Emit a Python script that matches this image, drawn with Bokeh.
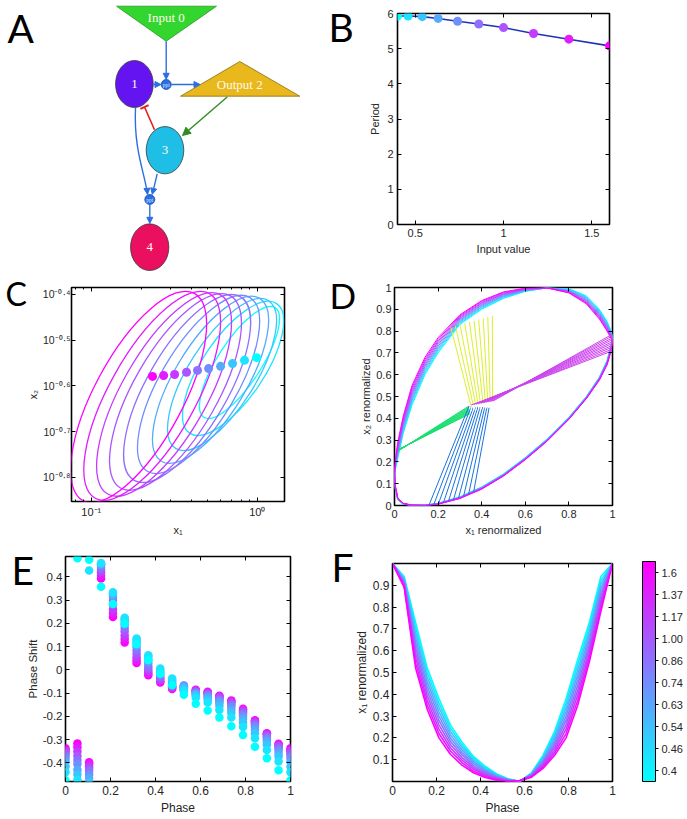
import math
from bokeh.plotting import figure
from bokeh.layouts import row, column
from bokeh.models import (Range1d, FixedTicker, LinearAxis, Label, Arrow, NormalHead,
                          TeeHead, ColorBar, LinearColorMapper, ColumnDataSource)
from bokeh.embed import file_html
from bokeh.resources import INLINE
from bokeh.core.properties import value

SANS = "Liberation Sans"
SERIF = "Liberation Serif"
LETTER_FONT = "Lato"
TXT = "#262626"

# ---------------- shared ----------------
input_values = [0.4, 0.46, 0.54, 0.63, 0.74, 0.86, 1.00, 1.17, 1.37, 1.6]
input_labels = ["0.4", "0.46", "0.54", "0.63", "0.74", "0.86", "1.00", "1.17", "1.37", "1.6"]
cool_colors = ["#00ffff", "#1ce3ff", "#39c6ff", "#55aaff", "#718eff",
               "#8e71ff", "#aa55ff", "#c639ff", "#e31cff", "#ff00ff"]

# ---------------- panel A (network diagram, page-pixel coordinates) ----------------
A_node_labels = ["1", "3", "4"]
A_node_x = [133.9, 164.5, 149.2]
A_node_y = [83.5, 149.7, 246.7]
A_node_w = [37.7, 37.6, 38.3]
A_node_h = [47.0, 47.3, 46.7]
A_node_colors = ["#6414f0", "#1ebee6", "#eb0f5f"]
A_input_x = [116.0, 216.0, 165.7]
A_input_y = [5.7, 5.7, 40.7]
A_output_x = [180.0, 299.3, 239.3]
A_output_y = [95.7, 95.7, 61.0]
A_ppi_x = [165.7, 149.3]
A_ppi_y = [84.0, 199.0]
A_blue_x0 = [165.7, 153.0, 170.7, 156.7, 149.3]
A_blue_y0 = [40.7, 84.0, 84.0, 173.3, 204.0]
A_blue_x1 = [165.7, 160.5, 199.5, 151.8, 149.3]
A_blue_y1 = [78.8, 84.0, 84.0, 193.8, 222.8]
A_green_edge = [226.7, 96.5, 182.0, 135.0]
A_red_edge = [154.0, 129.3, 144.0, 106.5]
A_curve_edge = [135.0, 107.3, 147.0, 193.8, 133.0, 150.0, 145.0, 175.0]

# ---------------- panel B ----------------
period = [5.93, 5.93, 5.91, 5.86, 5.78, 5.70, 5.60, 5.43, 5.27, 5.08]
B_x_ticks = [0.5, 1.0, 1.5]
B_x_tick_labels = ["0.5", "1", "1.5"]
B_y_ticks = [0, 1, 2, 3, 4, 5, 6]
B_y_tick_labels = ["0", "1", "2", "3", "4", "5", "6"]

# ---------------- panel C (log10 x1 / log10 x2 limit cycles) ----------------
C_orbit_left = [-0.348, -0.45, -0.54, -0.631, -0.721, -0.805, -0.89, -0.968, -1.045, -1.124]
C_orbit_right = [0.134, 0.159, 0.116, 0.068, 0.014, -0.040, -0.095, -0.155, -0.221, -0.305]
C_orbit_top = [-0.426, -0.415, -0.409, -0.404, -0.402, -0.400, -0.398, -0.396, -0.393, -0.393]
C_orbit_bottom = [-0.671, -0.708, -0.741, -0.769, -0.791, -0.811, -0.828, -0.841, -0.850, -0.855]
C_orbit_x_at_top = [0.08, 0.068, 0.02, -0.034, -0.095, -0.155, -0.215, -0.275, -0.342, -0.432]
C_fixed_log_x1 = [-0.004, -0.077, -0.149, -0.221, -0.293, -0.360, -0.426, -0.498, -0.564, -0.631]
C_fixed_log_x2 = [-0.538, -0.544, -0.551, -0.557, -0.562, -0.566, -0.570, -0.575, -0.577, -0.579]
C_x_ticks = [-1, 0]
C_x_tick_labels = ["10⁻¹", "10⁰"]
C_x_minor = [math.log10(v) for v in (0.08, 0.09, 0.2, 0.3, 0.4, 0.5, 0.6, 0.7, 0.8, 0.9)]
C_y_ticks = [-0.8, -0.7, -0.6, -0.5, -0.4]
C_y_tick_labels = ["10⁻⁰·⁸", "10⁻⁰·⁷", "10⁻⁰·⁶", "10⁻⁰·⁵", "10⁻⁰·⁴"]

# ---------------- panel D (renormalized orbits) ----------------
D_x = [0, 0.004, 0.015, 0.04, 0.08, 0.14, 0.2, 0.3, 0.4, 0.5, 0.6, 0.7, 0.8, 0.88, 0.94, 0.975, 0.994, 1]
D_upper = [
    [.12, .165, .215, .33, .46, .60, .70, .83, .90, .95, .982, .998, .995, .962, .90, .845, .80, .78],
    [.123, .170, .223, .339, .47, .609, .708, .835, .904, .953, .984, .998, .993, .958, .895, .84, .796, .776],
    [.127, .175, .232, .348, .48, .618, .716, .84, .909, .957, .985, .998, .991, .954, .89, .835, .792, .772],
    [.13, .18, .24, .357, .49, .627, .723, .845, .913, .96, .987, .998, .988, .95, .885, .83, .788, .768],
    [.133, .185, .248, .366, .50, .636, .731, .85, .918, .963, .989, .998, .986, .946, .88, .825, .784, .764],
    [.137, .19, .257, .374, .51, .644, .739, .855, .922, .967, .99, .998, .984, .941, .875, .82, .781, .761],
    [.14, .195, .265, .383, .52, .653, .747, .86, .927, .97, .992, .998, .982, .937, .87, .815, .777, .757],
    [.143, .20, .273, .392, .53, .662, .754, .865, .931, .973, .994, .998, .979, .933, .865, .81, .773, .753],
    [.147, .205, .282, .401, .54, .671, .762, .87, .936, .977, .995, .998, .977, .929, .86, .805, .769, .749],
    [.15, .21, .29, .41, .55, .68, .77, .875, .94, .98, .997, .998, .975, .925, .855, .80, .765, .745],
]
D_lower = [
    [.12, .07, .025, .006, 0, .002, .01, .04, .085, .145, .22, .305, .405, .50, .59, .665, .74, .78],
    [.123, .072, .026, .006, 0, .002, .01, .039, .084, .144, .219, .304, .404, .499, .588, .663, .737, .776],
    [.127, .074, .027, .007, 0, .002, .009, .038, .083, .143, .218, .303, .403, .498, .587, .661, .733, .772],
    [.13, .077, .028, .007, .001, .001, .009, .037, .082, .142, .217, .302, .402, .497, .585, .658, .73, .768],
    [.133, .079, .029, .008, .001, .001, .008, .036, .081, .141, .216, .301, .401, .496, .583, .656, .727, .764],
    [.137, .081, .031, .008, .001, .001, .008, .036, .079, .139, .214, .299, .399, .494, .582, .654, .723, .761],
    [.14, .083, .032, .009, .001, .001, .007, .035, .078, .138, .213, .298, .398, .493, .58, .652, .72, .757],
    [.143, .086, .033, .009, .002, 0, .007, .034, .077, .137, .212, .297, .397, .492, .578, .649, .717, .753],
    [.147, .088, .034, .01, .002, 0, .006, .033, .076, .136, .211, .296, .396, .491, .577, .647, .713, .749],
    [.15, .09, .035, .01, .002, 0, .006, .032, .075, .135, .21, .295, .395, .49, .575, .645, .71, .745],
]
D_fixed_x = [0.45, 0.439, 0.428, 0.417, 0.406, 0.394, 0.383, 0.372, 0.361, 0.35]
D_fixed_y = [0.478, 0.476, 0.474, 0.472, 0.470, 0.468, 0.466, 0.464, 0.462, 0.46]
D_yellow_x = [0.449, 0.428, 0.407, 0.386, 0.365, 0.344, 0.322, 0.30, 0.279, 0.258]
D_yellow_y = [0.87, 0.865, 0.859, 0.853, 0.847, 0.842, 0.836, 0.830, 0.825, 0.819]
D_green_x0 = [0.024, 0.023, 0.023, 0.022, 0.021, 0.021, 0.02, 0.019, 0.019, 0.018]
D_green_y0 = [0.26, 0.259, 0.258, 0.257, 0.256, 0.255, 0.254, 0.253, 0.252, 0.251]
D_green_x1 = [0.345, 0.345, 0.344, 0.344, 0.343, 0.343, 0.342, 0.342, 0.341, 0.341]
D_green_y1 = [0.42, 0.424, 0.428, 0.432, 0.436, 0.44, 0.444, 0.448, 0.452, 0.456]
D_blue_x0 = [0.434, 0.424, 0.414, 0.404, 0.393, 0.383, 0.373, 0.363, 0.352, 0.342]
D_blue_y0 = [0.449, 0.45, 0.45, 0.451, 0.452, 0.453, 0.453, 0.454, 0.455, 0.456]
D_blue_x1 = [0.363, 0.34, 0.317, 0.294, 0.271, 0.248, 0.225, 0.202, 0.18, 0.158]
D_blue_y1 = [0.062, 0.052, 0.043, 0.035, 0.028, 0.021, 0.015, 0.009, 0.004, 0.001]
D_magenta_x1 = [0.998, 0.998, 0.998, 0.998, 0.998, 0.998, 0.998, 0.998, 0.998, 0.998]
D_magenta_y1 = [0.785, 0.777, 0.768, 0.76, 0.751, 0.743, 0.734, 0.726, 0.717, 0.709]
D_white_x1 = [0.454, 0.443, 0.432, 0.421, 0.41, 0.398, 0.387, 0.376, 0.365, 0.354]
D_white_y1 = [0.452, 0.45, 0.448, 0.446, 0.444, 0.442, 0.44, 0.438, 0.436, 0.434]
D_x_ticks = [0, 0.2, 0.4, 0.6, 0.8, 1]
D_x_tick_labels = ["0", "0.2", "0.4", "0.6", "0.8", "1"]
D_y_ticks = [0, 0.1, 0.2, 0.3, 0.4, 0.5, 0.6, 0.7, 0.8, 0.9, 1]
D_y_tick_labels = ["0", "0.1", "0.2", "0.3", "0.4", "0.5", "0.6", "0.7", "0.8", "0.9", "1"]

# ---------------- panels E and F ----------------
phase = [0, 0.053, 0.105, 0.158, 0.211, 0.263, 0.316, 0.368, 0.421, 0.474,
         0.526, 0.579, 0.632, 0.684, 0.737, 0.789, 0.842, 0.895, 0.947, 1.0]
E_shift = [
    [-0.476, 0.481, 0.474, 0.358, 0.284, 0.199, 0.111, 0.042, -0.016, -0.066, -0.107, -0.145, -0.175, -0.205, -0.242, -0.28, -0.33, -0.38, -0.432, -0.476],
    [-0.44, -0.473, 0.428, 0.46, 0.334, 0.225, 0.135, 0.063, 0.006, -0.037, -0.09, -0.12, -0.14, -0.172, -0.205, -0.245, -0.294, -0.344, -0.394, -0.44],
    [-0.415, -0.45, -0.483, 0.458, 0.33, 0.22, 0.13, 0.058, 0.0, -0.042, -0.08, -0.11, -0.128, -0.155, -0.185, -0.225, -0.272, -0.322, -0.372, -0.415],
    [-0.395, -0.43, -0.465, 0.455, 0.325, 0.21, 0.118, 0.045, -0.01, -0.05, -0.072, -0.105, -0.12, -0.143, -0.172, -0.21, -0.258, -0.309, -0.359, -0.395],
    [-0.38, -0.405, -0.45, 0.45, 0.315, 0.195, 0.10, 0.03, -0.02, -0.058, -0.068, -0.1, -0.113, -0.135, -0.16, -0.198, -0.246, -0.298, -0.347, -0.38],
    [-0.368, -0.387, -0.435, 0.44, 0.30, 0.18, 0.085, 0.016, -0.028, -0.064, -0.067, -0.097, -0.108, -0.128, -0.152, -0.19, -0.237, -0.29, -0.338, -0.368],
    [-0.358, -0.37, -0.425, 0.43, 0.28, 0.165, 0.07, 0.005, -0.036, -0.07, -0.07, -0.094, -0.104, -0.122, -0.145, -0.182, -0.23, -0.284, -0.331, -0.358],
    [-0.35, -0.351, -0.415, 0.42, 0.26, 0.148, 0.055, -0.005, -0.043, -0.074, -0.075, -0.091, -0.1, -0.118, -0.14, -0.176, -0.225, -0.279, -0.326, -0.35],
    [-0.343, -0.333, -0.405, 0.405, 0.245, 0.133, 0.042, -0.014, -0.049, -0.078, -0.081, -0.088, -0.097, -0.114, -0.135, -0.171, -0.22, -0.275, -0.322, -0.343],
    [-0.337, -0.316, -0.397, 0.393, 0.228, 0.118, 0.03, -0.023, -0.054, -0.082, -0.087, -0.085, -0.094, -0.111, -0.131, -0.167, -0.216, -0.272, -0.318, -0.337],
]
F_x1 = [
    [1.0, .94, .73, .52, .38, .26, .18, .115, .07, .035, .012, 0.0, .04, .12, .23, .38, .56, .73, .94, 1.0],
    [1.0, .934, .707, .499, .36, .245, .168, .107, .064, .032, .011, 0.0, .038, .113, .218, .36, .537, .71, .922, 1.0],
    [1.0, .929, .683, .478, .34, .23, .157, .098, .058, .029, .009, .001, .036, .107, .206, .34, .513, .69, .904, 1.0],
    [1.0, .923, .66, .457, .32, .215, .145, .09, .053, .025, .008, .001, .033, .10, .193, .32, .49, .67, .887, 1.0],
    [1.0, .918, .637, .436, .30, .20, .133, .082, .047, .022, .007, .002, .031, .093, .181, .30, .467, .65, .869, 1.0],
    [1.0, .912, .613, .414, .28, .185, .122, .073, .041, .019, .005, .002, .029, .087, .169, .28, .443, .63, .851, 1.0],
    [1.0, .907, .59, .393, .26, .17, .11, .065, .035, .016, .004, .003, .027, .08, .157, .26, .42, .61, .833, 1.0],
    [1.0, .901, .567, .372, .24, .155, .098, .057, .03, .012, .003, .003, .024, .073, .144, .24, .397, .59, .816, 1.0],
    [1.0, .896, .543, .351, .22, .14, .087, .048, .024, .009, .001, .004, .022, .067, .132, .22, .373, .57, .798, 1.0],
    [1.0, .89, .52, .33, .20, .125, .075, .04, .018, .006, 0.0, .004, .02, .06, .12, .20, .35, .55, .78, 1.0],
]
EF_x_ticks = [0, 0.2, 0.4, 0.6, 0.8, 1]
EF_x_tick_labels = ["0", "0.2", "0.4", "0.6", "0.8", "1"]
E_y_ticks = [-0.4, -0.3, -0.2, -0.1, 0, 0.1, 0.2, 0.3, 0.4]
E_y_tick_labels = ["-0.4", "-0.3", "-0.2", "-0.1", "0", "0.1", "0.2", "0.3", "0.4"]
F_y_ticks = [0.1, 0.2, 0.3, 0.4, 0.5, 0.6, 0.7, 0.8, 0.9]
F_y_tick_labels = ["0.1", "0.2", "0.3", "0.4", "0.5", "0.6", "0.7", "0.8", "0.9"]


# ---------------- helpers ----------------
def no_align(p):
    if "frame_align" in p.properties():
        p.frame_align = False


def new_fig(w, h, xr, yr, left, right, top, bottom):
    p = figure(width=w, height=h, x_range=Range1d(*xr), y_range=Range1d(*yr),
               min_border_left=left, min_border_right=right,
               min_border_top=top, min_border_bottom=bottom,
               toolbar_location=None, output_backend="svg")
    no_align(p)
    p.grid.visible = False
    p.outline_line_color = "black"
    p.outline_line_width = 1.6
    p.background_fill_color = "white"
    p.border_fill_color = "white"
    return p


def style_axis(ax, fs, minor=False):
    ax.major_tick_in = 4
    ax.major_tick_out = 0
    ax.major_tick_line_color = "black"
    if minor:
        ax.minor_tick_in = 2
        ax.minor_tick_out = 0
        ax.minor_tick_line_color = "black"
    else:
        ax.minor_tick_line_color = None
    ax.axis_line_color = None
    ax.major_label_text_font = SANS
    ax.major_label_text_font_size = fs
    ax.major_label_text_color = TXT
    ax.axis_label_text_font = SANS
    ax.axis_label_text_font_size = fs
    ax.axis_label_text_font_style = "normal"
    ax.axis_label_text_color = TXT
    ax.major_label_standoff = 4
    ax.axis_label_standoff = 3


def setup_axes(p, xt, xl, yt, yl, fs, xlabel, ylabel, xminor=None):
    p.xaxis.ticker = FixedTicker(ticks=xt, minor_ticks=xminor or [])
    p.yaxis.ticker = FixedTicker(ticks=yt)
    p.xaxis.major_label_overrides = dict(zip(xt, xl))
    p.yaxis.major_label_overrides = dict(zip(yt, yl))
    p.xaxis.axis_label = xlabel
    p.yaxis.axis_label = ylabel
    style_axis(p.xaxis[0], fs, minor=bool(xminor))
    style_axis(p.yaxis[0], fs)
    for side, ticks, mnr in (("above", xt, xminor), ("right", yt, None)):
        ax = LinearAxis(ticker=FixedTicker(ticks=ticks, minor_ticks=mnr or []),
                        major_label_overrides={t: "" for t in ticks},
                        major_label_text_font_size="0px", major_label_text_color=None,
                        major_label_standoff=0, axis_line_color=None,
                        major_tick_in=4, major_tick_out=0, major_tick_line_color="black",
                        minor_tick_in=2 if mnr else 0, minor_tick_out=0,
                        minor_tick_line_color="black" if mnr else None)
        p.add_layout(ax, side)


def letter(p, text, sx, sy, size="39px"):
    # panel letter placed in the figure's left side panel (not clipped by the frame)
    lab = Label(x=sx, y=sy, x_units="screen", y_units="screen", text=text,
                text_font=LETTER_FONT, text_font_size=size, text_color="black",
                text_baseline="alphabetic", text_align="left")
    p.add_layout(lab, "left")


TOP_H = 271      # height of the first row (A, B)
MID_H = 269      # second row (C, D)
BOT_H = 277      # third row (E, F)

# ---------------- A ----------------
pA = figure(width=328, height=TOP_H, x_range=Range1d(0, 328), y_range=Range1d(TOP_H, 0),
            x_axis_type=None, y_axis_type=None, min_border=0,
            toolbar_location=None, output_backend="svg")
no_align(pA)
pA.grid.visible = False
pA.outline_line_color = None
pA.patch(A_input_x, A_input_y, fill_color="#33d62e", line_color="#2a9a22", line_width=0.8)
pA.patch(A_output_x, A_output_y, fill_color="#e8b81c", line_color="#8a6a10", line_width=0.8)
blue = "#2a6fe0"
pA.add_layout(Arrow(end=NormalHead(size=6, fill_color=blue, line_color=blue),
                    source=ColumnDataSource(dict(x0=A_blue_x0, y0=A_blue_y0, x1=A_blue_x1, y1=A_blue_y1)),
                    x_start="x0", y_start="y0", x_end="x1", y_end="y1",
                    line_color=blue, line_width=1.4))
cx0, cy0, cx1, cy1, k0x, k0y, k1x, k1y = A_curve_edge
pA.bezier(x0=[cx0], y0=[cy0], x1=[cx1], y1=[cy1], cx0=[k0x], cy0=[k0y], cx1=[k1x], cy1=[k1y],
          line_color=blue, line_width=1.4)
pA.add_layout(Arrow(end=NormalHead(size=6, fill_color=blue, line_color=blue),
                    x_start=cx1 - 0.4, y_start=cy1 - 4, x_end=cx1, y_end=cy1,
                    line_color=blue, line_width=1.4))
gx0, gy0, gx1, gy1 = A_green_edge
pA.add_layout(Arrow(end=NormalHead(size=8, fill_color="#2e8b1e", line_color="#2e8b1e"),
                    x_start=gx0, y_start=gy0, x_end=gx1, y_end=gy1,
                    line_color="#2e8b1e", line_width=1.4))
rx0, ry0, rx1, ry1 = A_red_edge
pA.add_layout(Arrow(end=TeeHead(size=9, line_color="#e02020", line_width=2),
                    x_start=rx0, y_start=ry0, x_end=rx1, y_end=ry1,
                    line_color="#e02020", line_width=1.6))
pA.ellipse(x=A_node_x, y=A_node_y, width=A_node_w, height=A_node_h,
           fill_color=A_node_colors, line_color="#3a3a3a", line_width=0.8)
pA.circle(x=A_ppi_x, y=A_ppi_y, radius=5, fill_color="#2a6fe0", line_color="#1a4aa8", line_width=0.8)
label_col = "#fffbe8"
pA.text(x=A_node_x, y=A_node_y, text=A_node_labels, text_font=value(SERIF),
        text_font_size="13px", text_color=label_col, text_align="center", text_baseline="middle")
pA.text(x=[165.7, 239.3], y=[17.3, 84.0], text=["Input 0", "Output 2"], text_font=value(SERIF),
        text_font_size="13px", text_color=label_col, text_align="center", text_baseline="middle")
pA.text(x=A_ppi_x, y=A_ppi_y, text=["ppi", "ppi"], text_font=value(SERIF),
        text_font_size="5.5px", text_color="#dfe8ff", text_align="center", text_baseline="middle")
pA.add_layout(Label(x=7, y=27, text="A", text_font=LETTER_FONT, text_font_size="39px",
                    text_color="black", text_baseline="alphabetic"))

# ---------------- B ----------------
B_xr, B_yr = (0.4, 1.6), (0, 6)
pB = new_fig(357, TOP_H, B_xr, B_yr, 69, 76, 13, TOP_H - 224)
srcB = ColumnDataSource(dict(x=input_values, y=period, c=cool_colors))
pB.line("x", "y", source=srcB, line_color="#1f33b5", line_width=1.6)
pB.scatter("x", "y", source=srcB, size=9, fill_color="c", line_color=None)
setup_axes(pB, B_x_ticks, B_x_tick_labels, B_y_ticks, B_y_tick_labels, "11px", "Input value", "Period")
letter(pB, "B", -13, 198)

# ---------------- C ----------------
C_xr = (-1.119, 0.164)
C_yr = (-0.8525, -0.3847)
pC = new_fig(328, MID_H, C_xr, C_yr, 71, 44, 287 - TOP_H, 39)
C_frame_w, C_frame_h = 213, 214
kx = C_frame_w / (C_xr[1] - C_xr[0])
ky = C_frame_h / (C_yr[1] - C_yr[0])
ell = dict(x=[], y=[], w=[], h=[], a=[], c=[])
for i in range(10):
    L, R = C_orbit_left[i], C_orbit_right[i]
    T, Bt = C_orbit_top[i], C_orbit_bottom[i]
    cx, cy = (L + R) / 2, (T + Bt) / 2
    W, H = (R - L) / 2 * kx, (T - Bt) / 2 * ky
    dt = (C_orbit_x_at_top[i] - cx) * kx
    Aq, Bq = W * W - H * H, 2 * dt * H
    diff, S = math.hypot(Aq, Bq), W * W + H * H
    a_ax = math.sqrt((S + diff) / 2)
    b_ax = math.sqrt(max((S - diff) / 2, 1.0))
    ell["x"].append(cx); ell["y"].append(cy)
    ell["w"].append(2 * a_ax / kx); ell["h"].append(2 * b_ax / ky)
    ell["a"].append(0.5 * math.atan2(Bq, Aq)); ell["c"].append(cool_colors[i])
pC.ellipse(x="x", y="y", width="w", height="h", angle="a", source=ColumnDataSource(ell),
           fill_color=None, line_color="c", line_width=1.3)
pC.scatter(C_fixed_log_x1, C_fixed_log_x2, size=9, fill_color=cool_colors, line_color=None)
setup_axes(pC, C_x_ticks, C_x_tick_labels, C_y_ticks, C_y_tick_labels, "11px", "x₁", "x₂",
           xminor=C_x_minor)
pC.yaxis[0].major_label_text_font_size = "10.5px"
pC.yaxis[0].axis_label_text_font_size = "10.5px"
pC.yaxis[0].major_label_standoff = 1
pC.yaxis[0].axis_label_standoff = 1
pC.xaxis[0].major_label_standoff = 3
pC.xaxis[0].axis_label_standoff = 3
letter(pC, "C", 3, 208, size="32px")

# ---------------- D ----------------
pD = new_fig(357, MID_H, (0, 1), (0, 1), 66, 73, 287 - TOP_H, 35)
for i in range(10):
    pD.line(D_x + D_x[::-1], D_upper[i] + D_lower[i][::-1], line_color=cool_colors[i], line_width=1.0)
pD.segment(D_green_x0, D_green_y0, D_green_x1, D_green_y1, line_color="#18e070", line_width=1.0)
pD.segment(D_blue_x0, D_blue_y0, D_blue_x1, D_blue_y1, line_color="#1a72e0", line_width=1.0)
pD.segment(D_fixed_x, D_fixed_y, D_yellow_x, D_yellow_y, line_color="#dcf028", line_width=1.0)
pD.segment(D_fixed_x, D_fixed_y, D_magenta_x1, D_magenta_y1, line_color="#cc44ee", line_width=1.0)
pD.segment(D_fixed_x, D_fixed_y, D_white_x1, D_white_y1, line_color="white", line_width=1.2)
setup_axes(pD, D_x_ticks, D_x_tick_labels, D_y_ticks, D_y_tick_labels, "11px",
           "x₁ renormalized", "x₂ renormalized")
pD.yaxis[0].major_label_standoff = 3
pD.yaxis[0].axis_label_standoff = 1
pD.xaxis[0].major_label_standoff = 2
pD.xaxis[0].axis_label_standoff = 0
letter(pD, "D", -1, 211, size="35px")

# ---------------- E ----------------
E_yr = (-0.48, 0.488)
pE = new_fig(328, BOT_H, (0, 1), E_yr, 64, 38, 16, 35)
for i in reversed(range(10)):
    pE.scatter(phase, E_shift[i], size=8.5, fill_color=cool_colors[i], line_color=None)
setup_axes(pE, EF_x_ticks, EF_x_tick_labels, E_y_ticks, E_y_tick_labels, "12px", "Phase", "Phase Shift")
pE.yaxis[0].major_label_text_font_size = "11.5px"
pE.yaxis[0].axis_label_text_font_size = "11.5px"
pE.yaxis[0].major_label_standoff = 3
pE.yaxis[0].axis_label_standoff = 1
pE.xaxis[0].major_label_standoff = 3
pE.xaxis[0].axis_label_standoff = 0
letter(pE, "E", 11, 212)

# ---------------- F ----------------
pF = new_fig(357, BOT_H, (0, 1), (0, 1), 64, 71, 23, 32)
for i in range(10):
    pF.line(phase, F_x1[i], line_color=cool_colors[i], line_width=1.6)
setup_axes(pF, EF_x_ticks, EF_x_tick_labels, F_y_ticks, F_y_tick_labels, "12px", "Phase", "x₁ renormalized")
pF.yaxis[0].major_label_standoff = 3
pF.yaxis[0].axis_label_standoff = 1
pF.xaxis[0].major_label_standoff = 3
pF.xaxis[0].axis_label_standoff = 0
cool64 = ["#%02x%02xff" % (round(255 * k / 63), 255 - round(255 * k / 63)) for k in range(64)]
cmap = LinearColorMapper(palette=cool64, low=-0.5, high=9.5)
cb = ColorBar(color_mapper=cmap, ticker=FixedTicker(ticks=list(range(10))),
              major_label_overrides={k: input_labels[k] for k in range(10)},
              width=13, height=220, padding=0, margin=0, location=(30, 0),
              label_standoff=3, major_tick_in=0, major_tick_out=3,
              major_tick_line_color="black", minor_tick_line_color=None,
              bar_line_color="black", bar_line_width=1,
              major_label_text_font=SANS, major_label_text_font_size="11px",
              major_label_text_color=TXT, background_fill_color=None, border_line_color=None)
pF.add_layout(cb, "right")
letter(pF, "F", 2, 215)

layout = row(column(pA, pC, pE), column(pB, pD, pF))
open("out.html", "w").write(file_html(layout, INLINE))
